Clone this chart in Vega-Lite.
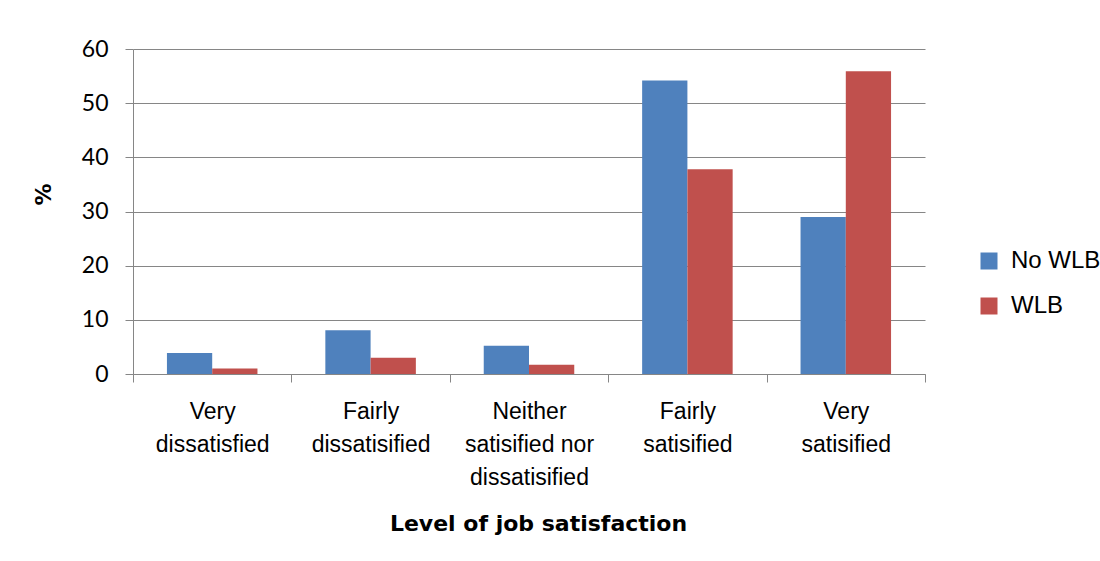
{
  "$schema": "https://vega.github.io/schema/vega-lite/v6.json",
  "width": 792,
  "height": 325,
  "autosize": {"type": "none"},
  "padding": {"left": 133, "top": 49, "right": 175, "bottom": 187},
  "background": "white",
  "config": {"view": {"stroke": null}},
  "data": {
    "values": [
      {"cat": "Very dissatisfied", "group": "No WLB", "value": 3.9},
      {"cat": "Very dissatisfied", "group": "WLB", "value": 1.0},
      {"cat": "Fairly dissatisified", "group": "No WLB", "value": 8.1},
      {"cat": "Fairly dissatisified", "group": "WLB", "value": 3.0},
      {"cat": "Neither satisified nor dissatisified", "group": "No WLB", "value": 5.2},
      {"cat": "Neither satisified nor dissatisified", "group": "WLB", "value": 1.7},
      {"cat": "Fairly satisified", "group": "No WLB", "value": 54.2},
      {"cat": "Fairly satisified", "group": "WLB", "value": 37.8},
      {"cat": "Very satisified", "group": "No WLB", "value": 29.0},
      {"cat": "Very satisified", "group": "WLB", "value": 55.9}
    ]
  },
  "mark": {"type": "bar"},
  "encoding": {
    "x": {
      "field": "cat",
      "type": "nominal",
      "sort": ["Very dissatisfied", "Fairly dissatisified", "Neither satisified nor dissatisified", "Fairly satisified", "Very satisified"],
      "scale": {"paddingInner": 0, "paddingOuter": 0},
      "axis": {
        "labelAngle": 0,
        "labelExpr": "!isValid(datum.value) ? '' : datum.value == 'Neither satisified nor dissatisified' ? ['Neither', 'satisified nor', 'dissatisified'] : split(datum.value, ' ')",
        "labelFont": "Liberation Sans",
        "labelFontSize": 23,
        "labelLineHeight": 33,
        "labelColor": "#000000",
        "labelPadding": 18,
        "labelBaseline": "top",
        "domainColor": "#868686",
        "ticks": true,
        "tickBand": "extent",
        "tickSize": 8,
        "tickColor": "#868686",
        "grid": false,
        "title": "Level of job satisfaction",
        "titleFont": "DejaVu Sans",
        "titleFontWeight": "bold",
        "titleFontSize": 22,
        "titleColor": "#000000",
        "titleX": 405,
        "titleY": 149,
        "titleAlign": "center",
        "titleBaseline": "middle"
      }
    },
    "xOffset": {
      "field": "group",
      "type": "nominal",
      "sort": ["No WLB", "WLB"],
      "scale": {"paddingInner": 0, "paddingOuter": 0.75}
    },
    "y": {
      "field": "value",
      "type": "quantitative",
      "scale": {"domain": [0, 60], "nice": false},
      "axis": {
        "values": [0, 10, 20, 30, 40, 50, 60],
        "labelFont": "Lato",
        "labelFontSize": 23,
        "labelColor": "#000000",
        "labelPadding": 17,
        "domainColor": "#868686",
        "tickColor": "#868686",
        "tickSize": 8,
        "grid": true,
        "gridColor": "#868686",
        "gridWidth": 1,
        "gridOpacity": 1,
        "title": "%",
        "titleFont": "DejaVu Sans",
        "titleFontWeight": "bold",
        "titleFontSize": 22,
        "titleColor": "#000000",
        "titleAngle": -90,
        "titleX": -90,
        "titleY": 145,
        "titleAlign": "center",
        "titleBaseline": "middle"
      }
    },
    "color": {
      "field": "group",
      "type": "nominal",
      "sort": ["No WLB", "WLB"],
      "scale": {"domain": ["No WLB", "WLB"], "range": ["#4F81BD", "#C0504D"]},
      "legend": {
        "title": null,
        "orient": "none",
        "legendX": 844,
        "legendY": 200,
        "symbolType": "square",
        "symbolSize": 289,
        "symbolStrokeWidth": 0,
        "labelFont": "Liberation Sans",
        "labelFontSize": 24,
        "labelColor": "#000000",
        "labelOffset": 10,
        "rowPadding": 21,
        "padding": 0
      }
    }
  }
}
